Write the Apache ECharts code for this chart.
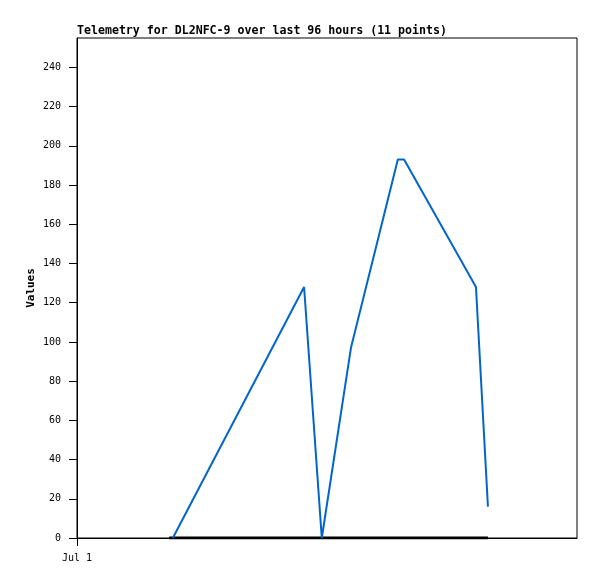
<!DOCTYPE html>
<html><head><meta charset="utf-8">
<script src="https://cdn.jsdelivr.net/npm/echarts@6/dist/echarts.min.js"></script>
<style>html,body{margin:0;padding:0;background:#fff}#c{width:597px;height:579px}</style>
</head><body><div id="c"></div>
<script>
// hours since Jul 1 00:00
const hours = [18.4, 43.6, 47.0, 52.6, 61.6, 62.8, 76.6, 78.9];
const values = [0, 128, 0, 97, 193, 193, 128, 16];
const baseHours = [17.7, 78.9];
const baseValues = [0, 0];
const xTickValues = [0];
const xTickLabels = ['Jul 1'];
const yTicks = {min: 0, max: 255, interval: 20};

const font = 'DejaVu Sans Mono';
const chart = echarts.init(document.getElementById('c'));
chart.setOption({
  animation: false,
  title: {text: 'Telemetry for DL2NFC-9 over last 96 hours (11 points)', left: 72, top: 20,
    textStyle: {fontFamily: font, fontSize: 11.6, fontWeight: 'bold', color: '#000'}},
  grid: {left: 77, right: 20, top: 38, bottom: 41, show: true, borderColor: '#000', borderWidth: 1},
  xAxis: {type: 'value', min: 0, max: 96, interval: 96,
    axisLine: {lineStyle: {color: '#000'}}, splitLine: {show: false},
    axisTick: {length: 8, customValues: xTickValues, lineStyle: {color: '#000'}},
    axisLabel: {customValues: xTickValues, formatter: v => xTickLabels[xTickValues.indexOf(v)] || '',
      fontFamily: font, fontSize: 10, color: '#000', margin: 15}},
  yAxis: {type: 'value', min: yTicks.min, max: yTicks.max, interval: yTicks.interval,
    name: 'Values', nameLocation: 'middle', nameGap: 40, nameRotate: 90, nameMoveOverlap: false,
    nameTextStyle: {fontFamily: font, fontSize: 11, fontWeight: 'bold', color: '#000'},
    axisLine: {show: true, lineStyle: {color: '#000'}}, splitLine: {show: false},
    axisTick: {length: 8, lineStyle: {color: '#000'}},
    axisLabel: {showMaxLabel: false, fontFamily: font, fontSize: 10, color: '#000', margin: 16}},
  series: [
    {type: 'line', data: baseHours.map((h, i) => [h, baseValues[i]]), symbol: 'none',
      lineStyle: {color: '#000', width: 3}},
    {type: 'line', data: hours.map((h, i) => [h, values[i]]), symbol: 'none',
      lineStyle: {color: '#0066cc', width: 2}}
  ]
});
</script></body></html>
